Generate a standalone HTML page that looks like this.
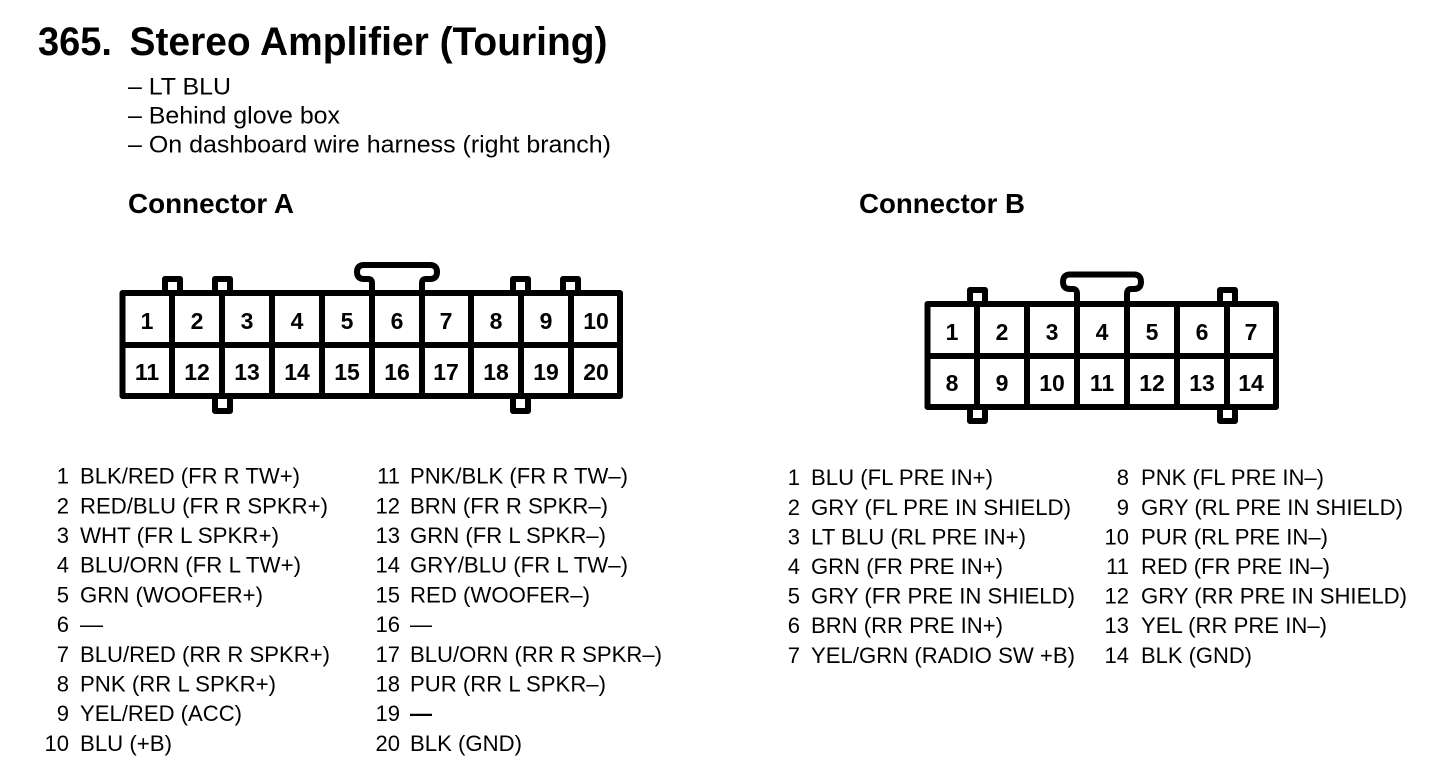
<!DOCTYPE html>
<html><head><meta charset="utf-8"><style>
html,body{margin:0;padding:0;background:#fff;width:1456px;height:772px;overflow:hidden}
svg{display:block}
text{font-family:"Liberation Sans",sans-serif;fill:#000}
.t{font-weight:bold;font-size:40px}
.h{font-weight:bold;font-size:27.5px}
.s{font-size:24px}
.l{font-size:22px}
.n{font-size:22px;text-anchor:end}
.p{font-weight:bold;font-size:23px;text-anchor:middle}
.c{fill:none;stroke:#000;stroke-width:6;stroke-linejoin:round}
</style></head><body>
<svg width="1456" height="772" viewBox="0 0 1456 772" xmlns="http://www.w3.org/2000/svg">
<text class="t" x="38" y="55" textLength="74" lengthAdjust="spacingAndGlyphs">365.</text>
<text class="t" x="129.500" y="55" textLength="478" lengthAdjust="spacingAndGlyphs">Stereo Amplifier (Touring)</text>
<text class="s" x="128" y="94.500" textLength="103" lengthAdjust="spacingAndGlyphs">– LT BLU</text>
<text class="s" x="128" y="123.500" textLength="212" lengthAdjust="spacingAndGlyphs">– Behind glove box</text>
<text class="s" x="128" y="152.500" textLength="483" lengthAdjust="spacingAndGlyphs">– On dashboard wire harness (right branch)</text>
<text class="h" x="128" y="213" textLength="166" lengthAdjust="spacingAndGlyphs">Connector A</text>
<text class="h" x="859" y="213" textLength="166" lengthAdjust="spacingAndGlyphs">Connector B</text>

<!-- Connector A -->
<path class="c" d="M122.500 293H620V396H122.500Z"/>
<path class="c" d="M122.500 345H620M172 293V396M222 293V396M272 293V396M322 293V396M372 293V396M422 293V396M471 293V396M521 293V396M571 293V396"/>
<path class="c" d="M165 293V279H180V293M215 293V279H230V293M513 293V279H528V293M563 293V279H578V293"/>
<path class="c" d="M215 396V411H230V396M513 396V411H528V396"/>
<path class="c" d="M372 293V283Q372 279 368 279H364Q357 279 357 272Q357 265 364 265H430Q437 265 437 272Q437 279 430 279H426Q422 279 422 283V293"/>
<text class="p" x="147" y="329">1</text><text class="p" x="197" y="329">2</text><text class="p" x="247" y="329">3</text><text class="p" x="297" y="329">4</text><text class="p" x="347" y="329">5</text><text class="p" x="397" y="329">6</text><text class="p" x="446" y="329">7</text><text class="p" x="496" y="329">8</text><text class="p" x="546" y="329">9</text><text class="p" x="596" y="329">10</text>
<text class="p" x="147" y="380">11</text><text class="p" x="197" y="380">12</text><text class="p" x="247" y="380">13</text><text class="p" x="297" y="380">14</text><text class="p" x="347" y="380">15</text><text class="p" x="397" y="380">16</text><text class="p" x="446" y="380">17</text><text class="p" x="496" y="380">18</text><text class="p" x="546" y="380">19</text><text class="p" x="596" y="380">20</text>

<!-- Connector B -->
<path class="c" d="M927.500 304H1276V407H927.500Z"/>
<path class="c" d="M927.500 356H1276M977 304V407M1027 304V407M1077 304V407M1127 304V407M1177 304V407M1227 304V407"/>
<path class="c" d="M970 304V290H985V304M1220 304V290H1235V304"/>
<path class="c" d="M970 407V421H985V407M1220 407V421H1235V407"/>
<path class="c" d="M1077 304V294Q1077 289 1073 289H1070Q1063 289 1063 282Q1063 274.500 1070 274.500H1134Q1141 274.500 1141 282Q1141 289 1134 289H1131Q1127 289 1127 294V304"/>
<text class="p" x="952" y="340">1</text><text class="p" x="1002" y="340">2</text><text class="p" x="1052" y="340">3</text><text class="p" x="1102" y="340">4</text><text class="p" x="1152" y="340">5</text><text class="p" x="1202" y="340">6</text><text class="p" x="1251" y="340">7</text>
<text class="p" x="952" y="391">8</text><text class="p" x="1002" y="391">9</text><text class="p" x="1052" y="391">10</text><text class="p" x="1102" y="391">11</text><text class="p" x="1152" y="391">12</text><text class="p" x="1202" y="391">13</text><text class="p" x="1251" y="391">14</text>

<!-- List A left -->
<text class="n" x="69" y="483.500">1</text><text class="l" x="80" y="483.500" textLength="220" lengthAdjust="spacingAndGlyphs">BLK/RED (FR R TW+)</text>
<text class="n" x="69" y="513.500">2</text><text class="l" x="80" y="513.500" textLength="248" lengthAdjust="spacingAndGlyphs">RED/BLU (FR R SPKR+)</text>
<text class="n" x="69" y="543">3</text><text class="l" x="80" y="543" textLength="199" lengthAdjust="spacingAndGlyphs">WHT (FR L SPKR+)</text>
<text class="n" x="69" y="572.500">4</text><text class="l" x="80" y="572.500" textLength="221" lengthAdjust="spacingAndGlyphs">BLU/ORN (FR L TW+)</text>
<text class="n" x="69" y="602.500">5</text><text class="l" x="80" y="602.500" textLength="183" lengthAdjust="spacingAndGlyphs">GRN (WOOFER+)</text>
<text class="n" x="69" y="632">6</text><text class="l" x="80" y="632" textLength="23" lengthAdjust="spacingAndGlyphs">—</text>
<text class="n" x="69" y="662">7</text><text class="l" x="80" y="662" textLength="250" lengthAdjust="spacingAndGlyphs">BLU/RED (RR R SPKR+)</text>
<text class="n" x="69" y="691.500">8</text><text class="l" x="80" y="691.500" textLength="196" lengthAdjust="spacingAndGlyphs">PNK (RR L SPKR+)</text>
<text class="n" x="69" y="721">9</text><text class="l" x="80" y="721" textLength="162" lengthAdjust="spacingAndGlyphs">YEL/RED (ACC)</text>
<text class="n" x="69" y="751">10</text><text class="l" x="80" y="751" textLength="92" lengthAdjust="spacingAndGlyphs">BLU (+B)</text>

<!-- List A right -->
<text class="n" x="400" y="483.500">11</text><text class="l" x="410" y="483.500" textLength="218" lengthAdjust="spacingAndGlyphs">PNK/BLK (FR R TW–)</text>
<text class="n" x="400" y="513.500">12</text><text class="l" x="410" y="513.500" textLength="198" lengthAdjust="spacingAndGlyphs">BRN (FR R SPKR–)</text>
<text class="n" x="400" y="543">13</text><text class="l" x="410" y="543" textLength="196" lengthAdjust="spacingAndGlyphs">GRN (FR L SPKR–)</text>
<text class="n" x="400" y="572.500">14</text><text class="l" x="410" y="572.500" textLength="218" lengthAdjust="spacingAndGlyphs">GRY/BLU (FR L TW–)</text>
<text class="n" x="400" y="602.500">15</text><text class="l" x="410" y="602.500" textLength="180" lengthAdjust="spacingAndGlyphs">RED (WOOFER–)</text>
<text class="n" x="400" y="632">16</text><text class="l" x="410" y="632" textLength="22" lengthAdjust="spacingAndGlyphs">—</text>
<text class="n" x="400" y="662">17</text><text class="l" x="410" y="662" textLength="252" lengthAdjust="spacingAndGlyphs">BLU/ORN (RR R SPKR–)</text>
<text class="n" x="400" y="691.500">18</text><text class="l" x="410" y="691.500" textLength="196" lengthAdjust="spacingAndGlyphs">PUR (RR L SPKR–)</text>
<text class="n" x="400" y="721">19</text><text class="l" x="410" y="721" textLength="22" lengthAdjust="spacingAndGlyphs" font-weight="bold">—</text>
<text class="n" x="400" y="751">20</text><text class="l" x="410" y="751" textLength="112" lengthAdjust="spacingAndGlyphs">BLK (GND)</text>

<!-- List B left -->
<text class="n" x="800" y="485">1</text><text class="l" x="811" y="485" textLength="182" lengthAdjust="spacingAndGlyphs">BLU (FL PRE IN+)</text>
<text class="n" x="800" y="515">2</text><text class="l" x="811" y="515" textLength="260" lengthAdjust="spacingAndGlyphs">GRY (FL PRE IN SHIELD)</text>
<text class="n" x="800" y="544.500">3</text><text class="l" x="811" y="544.500" textLength="215" lengthAdjust="spacingAndGlyphs">LT BLU (RL PRE IN+)</text>
<text class="n" x="800" y="574">4</text><text class="l" x="811" y="574" textLength="192" lengthAdjust="spacingAndGlyphs">GRN (FR PRE IN+)</text>
<text class="n" x="800" y="603.500">5</text><text class="l" x="811" y="603.500" textLength="264" lengthAdjust="spacingAndGlyphs">GRY (FR PRE IN SHIELD)</text>
<text class="n" x="800" y="633">6</text><text class="l" x="811" y="633" textLength="192" lengthAdjust="spacingAndGlyphs">BRN (RR PRE IN+)</text>
<text class="n" x="800" y="663">7</text><text class="l" x="811" y="663" textLength="264" lengthAdjust="spacingAndGlyphs">YEL/GRN (RADIO SW +B)</text>

<!-- List B right -->
<text class="n" x="1129" y="485">8</text><text class="l" x="1141" y="485" textLength="183" lengthAdjust="spacingAndGlyphs">PNK (FL PRE IN–)</text>
<text class="n" x="1129" y="515">9</text><text class="l" x="1141" y="515" textLength="262" lengthAdjust="spacingAndGlyphs">GRY (RL PRE IN SHIELD)</text>
<text class="n" x="1129" y="544.500">10</text><text class="l" x="1141" y="544.500" textLength="187" lengthAdjust="spacingAndGlyphs">PUR (RL PRE IN–)</text>
<text class="n" x="1129" y="574">11</text><text class="l" x="1141" y="574" textLength="189" lengthAdjust="spacingAndGlyphs">RED (FR PRE IN–)</text>
<text class="n" x="1129" y="603.500">12</text><text class="l" x="1141" y="603.500" textLength="266" lengthAdjust="spacingAndGlyphs">GRY (RR PRE IN SHIELD)</text>
<text class="n" x="1129" y="633">13</text><text class="l" x="1141" y="633" textLength="186" lengthAdjust="spacingAndGlyphs">YEL (RR PRE IN–)</text>
<text class="n" x="1129" y="663">14</text><text class="l" x="1141" y="663" textLength="111" lengthAdjust="spacingAndGlyphs">BLK (GND)</text>
</svg>
</body></html>
